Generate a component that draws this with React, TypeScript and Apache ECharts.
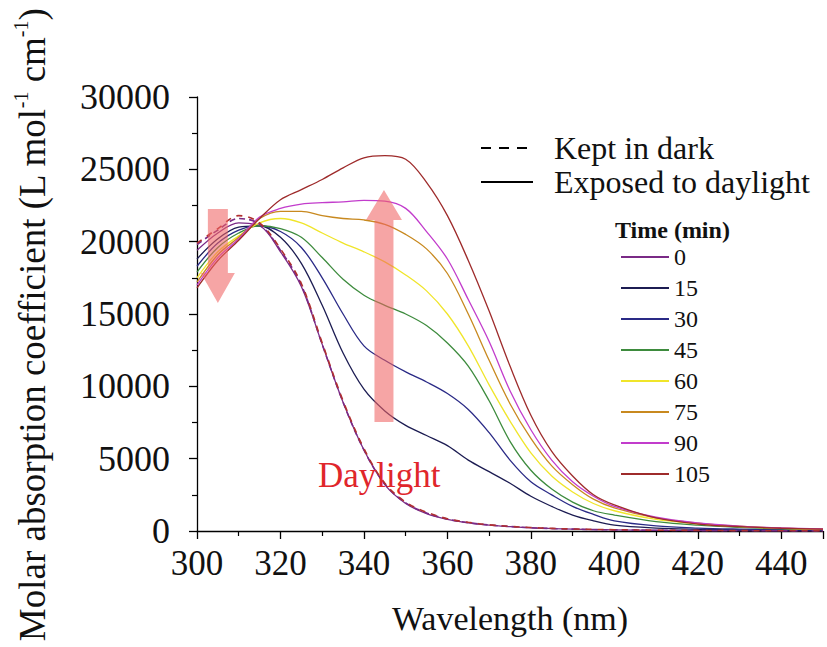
import React, { useEffect, useRef } from "react";
import * as echarts from "echarts";

// Wavelength grid (nm)
const wavelengths = [300, 305, 310, 315, 320, 325, 330, 335, 340, 345, 350, 355, 360, 365, 370, 375, 380, 385, 390, 395, 400, 410, 420, 430, 440, 450];

// Exposure time labels (min) and colours
const timeLabels = ["0", "15", "30", "45", "60", "75", "90", "105"];
const timeColors = ["#7a2a86", "#1c1c52", "#2a2a86", "#3d8b3d", "#f0e52a", "#c8891f", "#c23ccc", "#9e2b2b"];

// Exposed to daylight (molar absorption coefficient, L mol-1 cm-1)
const exposed0 = [19400, 20600, 21300, 21100, 19300, 16900, 12900, 8900, 5600, 3200, 1900, 1200, 800, 560, 400, 300, 220, 170, 130, 100, 80, 50, 30, 20, 15, 10];
const exposed15 = [18800, 20200, 21000, 21100, 20300, 18500, 15600, 12300, 9800, 8300, 7300, 6600, 5900, 4900, 4100, 3300, 2400, 1700, 1100, 700, 400, 200, 120, 80, 60, 40];
const exposed30 = [18300, 19900, 20800, 21100, 20700, 19600, 17500, 15000, 12800, 11800, 11000, 10300, 9500, 8400, 6800, 4900, 3400, 2500, 1700, 1150, 700, 350, 200, 130, 90, 60];
const exposed45 = [17900, 19600, 20600, 21100, 20900, 20300, 18900, 17400, 16300, 15600, 15000, 14200, 13000, 11400, 9000, 6200, 4200, 2900, 2000, 1400, 1100, 650, 400, 250, 150, 100];
const exposed60 = [17500, 19300, 20400, 21300, 21600, 21300, 20600, 19900, 19300, 18600, 17700, 16600, 15000, 12800, 10100, 7600, 5400, 3800, 2700, 1900, 1400, 800, 500, 300, 180, 120];
const exposed75 = [17200, 19100, 20300, 21600, 22100, 22100, 21800, 21600, 21500, 21200, 20500, 19500, 17800, 15000, 11800, 8800, 6400, 4500, 3200, 2200, 1600, 900, 550, 330, 200, 130];
const exposed90 = [17000, 18900, 20200, 21700, 22300, 22600, 22700, 22750, 22850, 22800, 22300, 20700, 18800, 16000, 13100, 9700, 7000, 4900, 3400, 2400, 1700, 950, 560, 340, 210, 140];
const exposed105 = [16800, 18700, 20100, 21600, 22900, 23600, 24300, 25100, 25800, 25950, 25700, 24100, 21800, 18700, 15200, 11400, 8000, 5500, 3800, 2500, 1800, 900, 480, 300, 190, 130];

// Kept in dark
const keptDark105 = [19900, 20900, 21800, 21300, 19500, 17100, 13000, 9000, 5700, 3300, 2000, 1300, 850, 600, 430, 320, 240, 180, 140, 110, 90, 60, 40, 25, 15, 10];
const keptDark0 = [19800, 20800, 21600, 21200, 19400, 17000, 12900, 8900, 5600, 3250, 1950, 1250, 820, 580, 410, 310, 230, 170, 130, 100, 80, 50, 30, 20, 12, 8];

const exposedSeries = [exposed0, exposed15, exposed30, exposed45, exposed60, exposed75, exposed90, exposed105];

// Axis ranges
const xMin = 300, xMax = 450, xStep = 20;
const yMin = 0, yMax = 30000, yStep = 5000;

// Annotation anchors (data coords)
const downArrow = { x: 305, from: 22250, to: 15760 };
const upArrow = { x: 344.8, from: 7530, to: 23570 };
const daylightLabel = { x: 329, y: 3870, text: "Daylight" };

const FONT = "'Liberation Serif', 'Times New Roman', serif";

export default function App() {
  const ref = useRef<HTMLDivElement>(null);
  useEffect(() => {
    const chart = echarts.init(ref.current!, null, { renderer: "svg" });
    const series: any[] = [];
    exposedSeries.forEach((arr, i) => {
      series.push({
        name: timeLabels[i],
        type: "line",
        data: wavelengths.map((w, j) => [w, arr[j]]),
        symbol: "none",
        showSymbol: false,
        smooth: 0.35,
        lineStyle: { color: timeColors[i], width: 1.3 },
        itemStyle: { color: timeColors[i] },
        z: 2,
      });
    });
    series.push({
      name: "dark-0",
      type: "line",
      data: wavelengths.map((w, j) => [w, keptDark0[j]]),
      symbol: "none",
      smooth: 0.35,
      lineStyle: { color: timeColors[0], width: 1.6, type: [6, 4] },
      z: 3,
    });
    series.push({
      name: "dark-105",
      type: "line",
      data: wavelengths.map((w, j) => [w, keptDark105[j]]),
      symbol: "none",
      smooth: 0.35,
      lineStyle: { color: "#b03030", width: 1.6, type: [6, 6] },
      z: 3,
    });
    series.push({
      name: "Kept in dark",
      type: "line",
      data: [],
      symbol: "none",
      lineStyle: { color: "#000", width: 2.5, type: [10, 8] },
      itemStyle: { color: "#000" },
    });
    series.push({
      name: "Exposed to daylight",
      type: "line",
      data: [],
      symbol: "none",
      lineStyle: { color: "#000", width: 2.5 },
      itemStyle: { color: "#000" },
    });

    chart.setOption({
      animation: false,
      backgroundColor: "#fff",
      grid: { left: 197, right: 4, top: 97, bottom: 116, containLabel: false },
      legend: [
        {
          data: ["Kept in dark", "Exposed to daylight"],
          orient: "vertical",
          left: 475,
          top: 127,
          itemWidth: 52,
          itemHeight: 10,
          itemGap: 2,
          selectedMode: false,
          itemStyle: { opacity: 0 },
          textStyle: { fontFamily: FONT, fontSize: 32, color: "#111", padding: [0, 0, 0, 16] },
        },
        {
          data: timeLabels,
          orient: "vertical",
          left: 615,
          top: 240,
          itemWidth: 48,
          itemHeight: 10,
          itemGap: 7,
          selectedMode: false,
          itemStyle: { opacity: 0 },
          textStyle: { fontFamily: FONT, fontSize: 24, color: "#111" },
        },
      ],
      xAxis: {
        type: "value",
        min: xMin,
        max: xMax,
        interval: xStep,
        axisLine: { show: true, lineStyle: { color: "#000", width: 1.3 } },
        axisTick: { show: true, inside: false, length: 8, lineStyle: { color: "#000", width: 1.3 } },
        minorTick: { show: true, splitNumber: 2, length: 5, lineStyle: { color: "#000", width: 1.2 } },
        splitLine: { show: false },
        axisLabel: { fontFamily: FONT, fontSize: 35, color: "#111", margin: 15, showMaxLabel: false, formatter: (v: number) => String(v) },
        name: "Wavelength (nm)",
        nameLocation: "middle",
        nameGap: 70,
        nameTextStyle: { fontFamily: FONT, fontSize: 34, color: "#111" },
      },
      yAxis: {
        type: "value",
        min: yMin,
        max: yMax,
        interval: yStep,
        axisLine: { show: true, lineStyle: { color: "#000", width: 1.3 } },
        axisTick: { show: true, inside: false, length: 8, lineStyle: { color: "#000", width: 1.3 } },
        minorTick: { show: true, splitNumber: 2, length: 5, lineStyle: { color: "#000", width: 1.2 } },
        splitLine: { show: false },
        axisLabel: { fontFamily: FONT, fontSize: 36, color: "#111", margin: 27, formatter: (v: number) => String(v) },
      },
      series,
    });

    const px = (x: number, y: number) => chart.convertToPixel({ gridIndex: 0 }, [x, y]) as number[];
    const arrowPts = (cx: number, yTail: number, yTip: number, shaftHalf: number, headHalf: number, headLen: number) => {
      const sign = yTip > yTail ? 1 : -1;
      const base = yTip - sign * headLen;
      return [
        [cx - shaftHalf, yTail],
        [cx + shaftHalf, yTail],
        [cx + shaftHalf, base],
        [cx + headHalf, base],
        [cx, yTip],
        [cx - headHalf, base],
        [cx - shaftHalf, base],
      ];
    };
    const dTail = px(downArrow.x, downArrow.from);
    const dTip = px(downArrow.x, downArrow.to);
    const uTail = px(upArrow.x, upArrow.from);
    const uTip = px(upArrow.x, upArrow.to);
    const lbl = px(daylightLabel.x, daylightLabel.y);
    const arrowFill = "rgba(240,100,100,0.58)";

    chart.setOption({
      graphic: [
        {
          type: "polygon",
          z: 100,
          shape: { points: arrowPts(dTail[0], dTail[1], dTip[1], 10, 17, 30) },
          style: { fill: arrowFill },
        },
        {
          type: "polygon",
          z: 100,
          shape: { points: arrowPts(uTail[0], uTail[1], uTip[1], 9.5, 18, 30) },
          style: { fill: arrowFill },
        },
        {
          type: "text",
          z: 101,
          x: lbl[0],
          y: lbl[1],
          style: {
            text: daylightLabel.text,
            fill: "#e0262b",
            font: "35px " + FONT,
            align: "left",
            verticalAlign: "middle",
          },
        },
        {
          type: "text",
          z: 101,
          left: 615,
          top: 218,
          style: { text: "Time (min)", fill: "#111", font: "bold 24px " + FONT },
        },
        {
          type: "text",
          z: 101,
          x: 32,
          y: 325,
          rotation: Math.PI / 2,
          style: {
            text: "Molar absorption coefficient (L mol{sup|-1} cm{sup|-1})",
            fill: "#111",
            font: "37px " + FONT,
            lineHeight: 42,
            align: "center",
            verticalAlign: "middle",
            rich: {
              sup: { fontFamily: FONT, fontSize: 20, fill: "#111", verticalAlign: "top", lineHeight: 22 },
            },
          },
        },
      ],
    });

    return () => chart.dispose();
  }, []);
  return <div ref={ref} style={{ position: "fixed", left: 0, top: 0, width: 827, height: 647 }} />;
}
